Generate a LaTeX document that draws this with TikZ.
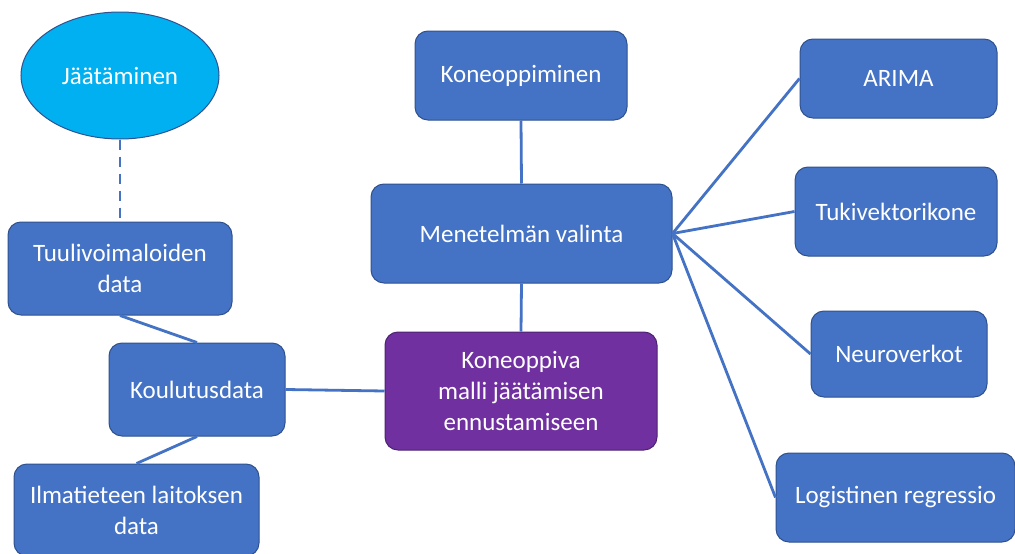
\documentclass[tikz,border=0pt]{standalone}
\usepackage{fontspec}
\setmainfont{Carlito}
\usetikzlibrary{shapes.geometric}
\definecolor{boxblue}{HTML}{4472C4}
\definecolor{boxedge}{HTML}{2F528F}
\definecolor{boxpurple}{HTML}{7030A0}
\definecolor{edgepurple}{HTML}{4E2272}
\definecolor{icecyan}{HTML}{00B0F0}
\begin{document}
\begin{tikzpicture}[x=1pt, y=-1pt,
    box/.style={draw=boxedge, line width=1pt, fill=boxblue, rounded corners=13pt, text=white, align=center,
        inner sep=0pt, font=\fontsize{25}{31}\selectfont},
    link/.style={draw=boxblue, line width=2.8pt}]

    \useasboundingbox[fill=white] (0,0) rectangle (1015,554);

    \node[ellipse, draw=boxedge, line width=1pt, fill=icecyan, text=white, inner sep=0pt,
        minimum width=198pt, minimum height=127pt, font=\fontsize{25}{31}\selectfont] (jaa) at (120,75.5) {Jäätäminen};

    \node[box, minimum width=224pt, minimum height=93pt] (tuuli) at (120,268.5) {Tuulivoimaloiden\\data};
    \node[box, minimum width=176pt, minimum height=93pt] (koulu) at (197,389.5) {Koulutusdata};
    \node[box, minimum width=245pt, minimum height=92pt] (ilma) at (136.5,510) {Ilmatieteen laitoksen\\data};
    \node[box, fill=boxpurple, draw=edgepurple, minimum width=272pt, minimum height=118pt] (malli) at (521,391)
        {Koneoppiva\\malli jäätämisen\\ennustamiseen};
    \node[box, minimum width=301pt, minimum height=99pt] (valinta) at (521.5,233.5) {Menetelmän valinta};
    \node[box, minimum width=212pt, minimum height=89pt] (kone) at (521,75.5) {Koneoppiminen};

    \node[box, minimum width=197pt, minimum height=79pt] (arima) at (898.5,78.5) {ARIMA};
    \node[box, minimum width=202pt, minimum height=89pt] (tuki) at (896,211.5) {Tukivektorikone};
    \node[box, minimum width=176pt, minimum height=86pt] (neuro) at (899,354) {Neuroverkot};
    \node[box, minimum width=239pt, minimum height=89pt] (logis) at (895.5,497.5) {Logistinen regressio};

    \draw[link, dash pattern=on 10pt off 7pt] (jaa.south) -- (tuuli.north);
    \draw[link] (tuuli.south) -- (koulu.north);
    \draw[link] (koulu.south) -- (ilma.north);
    \draw[link] (koulu.east) -- (malli.west);
    \draw[link] (kone.south) -- (valinta.north);
    \draw[link] (valinta.south) -- (malli.north);
    \foreach \m in {arima, tuki, neuro, logis}
        \draw[link] (valinta.east) -- (\m.west);
\end{tikzpicture}
\end{document}
